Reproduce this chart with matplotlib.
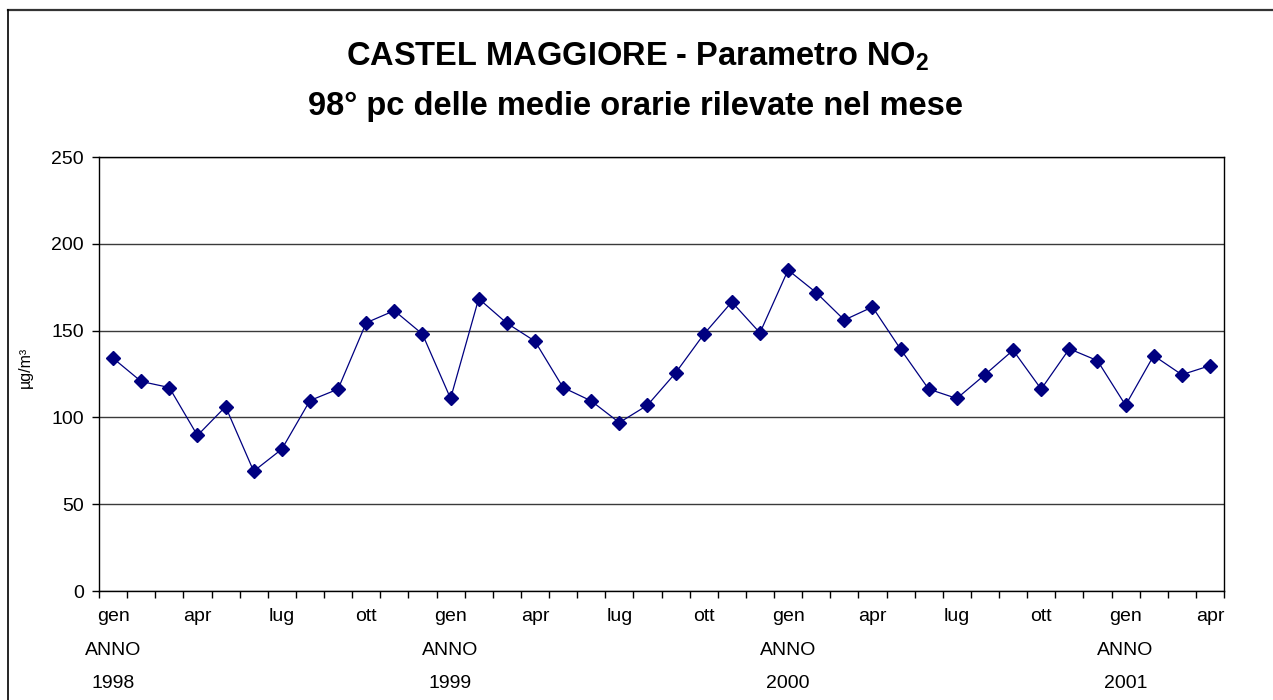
import matplotlib
matplotlib.use('Agg')
import matplotlib.pyplot as plt
from matplotlib.lines import Line2D

# ---- data ----
month_names = ['gen', 'feb', 'mar', 'apr', 'mag', 'giu',
               'lug', 'ago', 'set', 'ott', 'nov', 'dic']
years = ['1998', '1999', '2000', '2001']
n_months = 40  # gen 1998 .. apr 2001
no2_98pc = [134.1, 120.7, 117.2, 89.6, 106.2, 69.0, 81.7, 109.7, 116.3, 154.5,
            161.5, 148.0, 110.9, 168.4, 154.3, 143.9, 117.2, 109.5, 97.0, 107.0,
            125.6, 147.8, 166.5, 148.7, 184.9, 171.9, 156.1, 163.6, 139.3, 116.3,
            110.9, 124.6, 138.7, 116.3, 139.5, 132.7, 107.0, 135.6, 124.6, 129.8]
y_ticks = [0, 50, 100, 150, 200, 250]
title_line1 = 'CASTEL MAGGIORE - Parametro NO$_\\mathbf{2}$'
title_line2 = '98° pc delle medie orarie rilevate nel mese'
y_label = 'µg/m³'

plt.rcParams['font.family'] = ['Liberation Sans', 'DejaVu Sans']
plt.rcParams['mathtext.fontset'] = 'custom'
plt.rcParams['mathtext.rm'] = 'Liberation Sans'
plt.rcParams['mathtext.bf'] = 'Liberation Sans:bold'
plt.rcParams['mathtext.it'] = 'Liberation Sans:italic'

W, H = 1273, 700
fig = plt.figure(figsize=(W / 100, H / 100), dpi=100)
ax = fig.add_axes([99 / W, 1 - 591 / H, (1224 - 99) / W, (591 - 157) / H])

x = list(range(n_months))
ax.plot(x, no2_98pc, color='#000080', lw=0.9, marker='D', markersize=7.3,
        markerfacecolor='#000080', markeredgecolor='#000080', zorder=3)

ax.set_xlim(-0.5, n_months - 0.5)
ax.set_ylim(0, 250)
ax.set_yticks(y_ticks)
ax.yaxis.grid(True, color='#3a3a3a', lw=1.0)
ax.set_axisbelow(True)

# category labels every 3rd month
label_pos = list(range(0, n_months, 3))
labels = []
for i in label_pos:
    m = month_names[i % 12]
    if i % 12 == 0:
        labels.append(m + '\nANNO\n' + years[i // 12])
    else:
        labels.append(m)
ax.set_xticks(label_pos)
ax.set_xticklabels(labels, fontsize=14, linespacing=2.3, va='top')
ax.set_xticks([i - 0.5 for i in range(n_months + 1)], minor=True)
ax.tick_params(axis='x', which='major', length=0, pad=12)
ax.tick_params(axis='x', which='minor', length=5, width=1, direction='out')
ax.tick_params(axis='y', length=5, width=1, direction='out', labelsize=14, pad=6)

for s in ax.spines.values():
    s.set_color('black')
    s.set_linewidth(1.0)

fig.text(25 / W, 1 - 367 / H, y_label, rotation=90, fontsize=11.5,
         ha='center', va='center')

fig.text(638 / W, 1 - 57 / H, title_line1, fontsize=23.5, fontweight='bold',
         ha='center', va='center')
fig.text(636 / W, 1 - 107 / H, title_line2, fontsize=23.5, fontweight='bold',
         ha='center', va='center')

# outer chart frame (top and left edges visible)
fig.add_artist(Line2D([8 / W, 1.0], [1 - 9.5 / H, 1 - 9.5 / H],
                      transform=fig.transFigure, color='#333333', lw=1.6))
fig.add_artist(Line2D([8 / W, 8 / W], [1 - 9.5 / H, 0.0],
                      transform=fig.transFigure, color='black', lw=1.2))

fig.savefig('out.png', dpi=100)
